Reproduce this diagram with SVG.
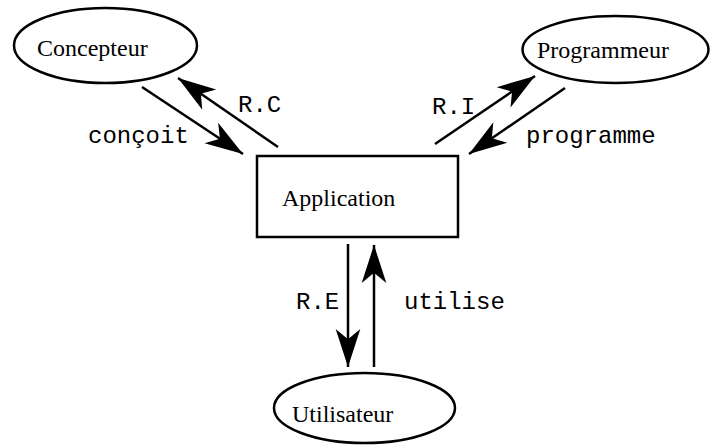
<svg xmlns="http://www.w3.org/2000/svg" width="710" height="445" viewBox="0 0 710 445">
<style>
.node{fill:#fff;stroke:#000;stroke-width:2.5}
.lbl{font-family:"Liberation Serif","Times New Roman",serif;font-size:24px;fill:#000}
.mono{font-family:"Liberation Mono","Courier New",monospace;font-size:24px;fill:#000}
.edge{stroke:#000;stroke-width:2.5;fill:none;marker-end:url(#ah)}
</style>
<defs>
<marker id="ah" markerUnits="userSpaceOnUse" markerWidth="38" markerHeight="26" refX="37" refY="12" orient="auto" viewBox="0 0 37 24" overflow="visible">
<path d="M37,12 L0,0 L10,12 L0,24 Z" fill="#000"/>
</marker>
</defs>
<rect width="710" height="445" fill="#fff"/>
<g id="concepteur">
<ellipse class="node" cx="105.5" cy="45.5" rx="91.5" ry="37.5"/>
<text class="lbl" x="37" y="56">Concepteur</text>
</g>
<g id="programmeur">
<ellipse class="node" cx="615.5" cy="49.5" rx="93" ry="33.5"/>
<text class="lbl" x="537" y="58">Programmeur</text>
</g>
<g id="application">
<rect class="node" x="257" y="156" width="201" height="81" stroke-width="2"/>
<text class="lbl" x="282" y="206">Application</text>
</g>
<g id="utilisateur">
<ellipse class="node" cx="364.5" cy="408" rx="90.5" ry="35"/>
<text class="lbl" x="292" y="422">Utilisateur</text>
</g>
<g id="connectors">
<line class="edge" x1="142" y1="87" x2="243" y2="154"/>
<line class="edge" x1="278" y1="147" x2="178" y2="78"/>
<line class="edge" x1="435" y1="144" x2="535" y2="76"/>
<line class="edge" x1="565" y1="88" x2="469" y2="154"/>
<line class="edge" x1="348" y1="244" x2="348" y2="367"/>
<line class="edge" x1="374" y1="367" x2="374" y2="245"/>
<text class="mono" x="88" y="143">conçoit</text>
<text class="mono" x="238" y="112">R.C</text>
<text class="mono" x="432" y="114">R.I</text>
<text class="mono" x="526" y="143">programme</text>
<text class="mono" x="296" y="309">R.E</text>
<text class="mono" x="404" y="309">utilise</text>
</g>
</svg>
